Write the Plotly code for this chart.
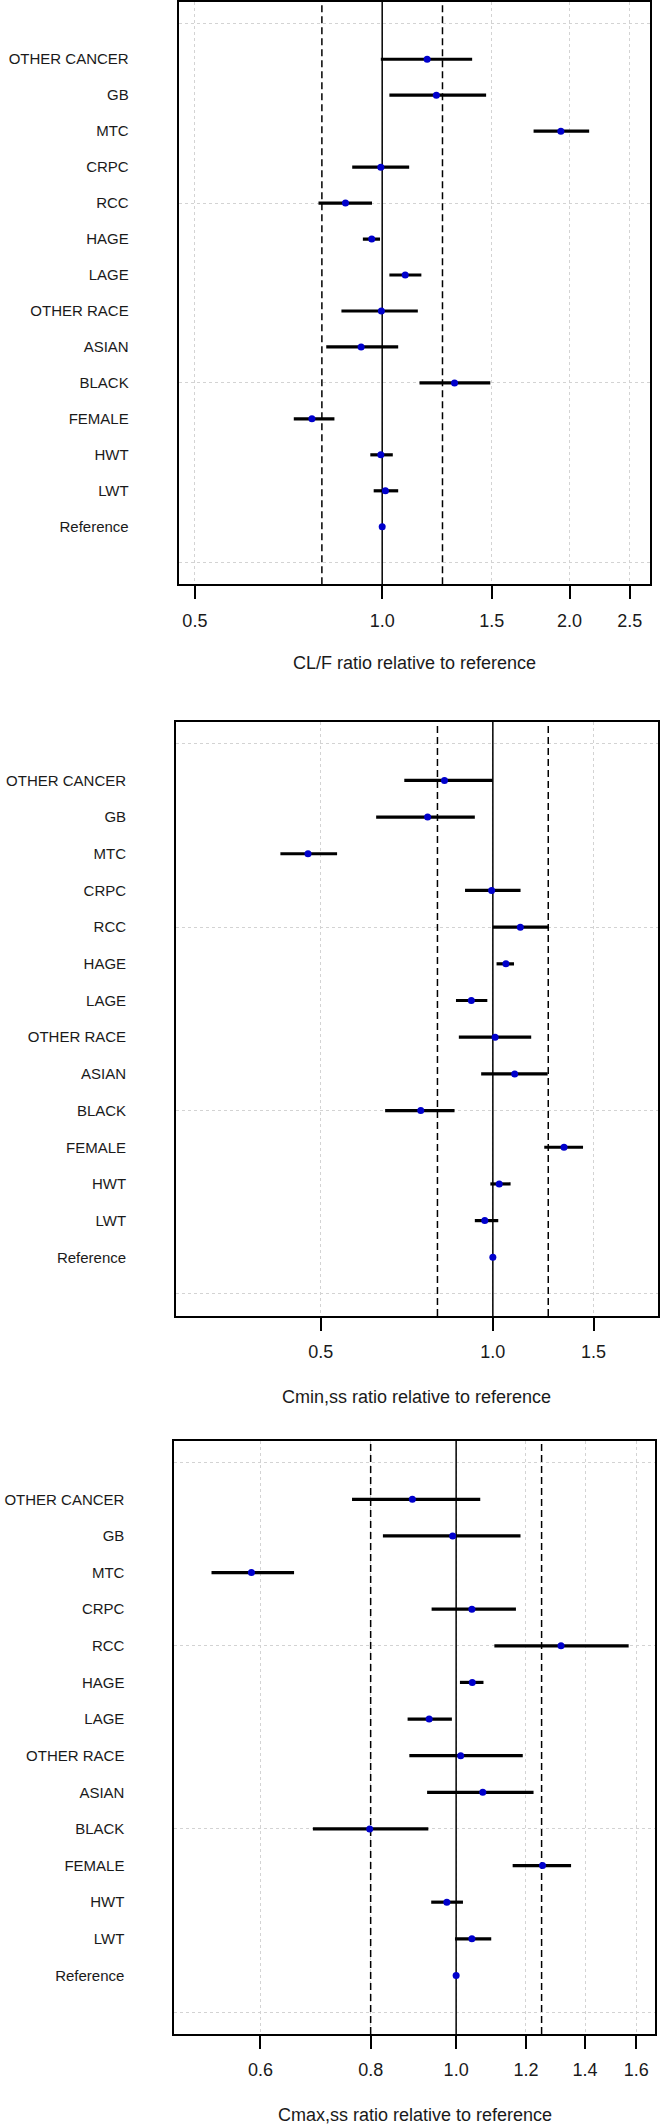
import math
import plotly.graph_objects as go

# ---------------- data ----------------
categories = ["OTHER CANCER", "GB", "MTC", "CRPC", "RCC", "HAGE", "LAGE",
              "OTHER RACE", "ASIAN", "BLACK", "FEMALE", "HWT", "LWT", "Reference"]

clf_est = [1.181, 1.222, 1.937, 0.995, 0.873, 0.962, 1.089, 0.997, 0.925, 1.307, 0.771, 0.995, 1.012, 1.0]
clf_lo  = [0.995, 1.027, 1.751, 0.895, 0.790, 0.931, 1.027, 0.860, 0.813, 1.148, 0.721, 0.957, 0.969, 1.0]
clf_hi  = [1.395, 1.469, 2.151, 1.105, 0.963, 0.992, 1.156, 1.141, 1.061, 1.492, 0.838, 1.040, 1.061, 1.0]

cmin_est = [0.823, 0.769, 0.475, 0.995, 1.117, 1.054, 0.917, 1.009, 1.092, 0.748, 1.332, 1.026, 0.968, 1.0]
cmin_lo  = [0.700, 0.625, 0.425, 0.894, 1.000, 1.015, 0.862, 0.872, 0.954, 0.648, 1.230, 0.990, 0.930, 1.0]
cmin_hi  = [1.000, 0.930, 0.534, 1.118, 1.249, 1.089, 0.978, 1.167, 1.247, 0.857, 1.438, 1.074, 1.022, 1.0]

cmax_est = [0.892, 0.991, 0.586, 1.042, 1.315, 1.043, 0.932, 1.012, 1.072, 0.798, 1.253, 0.976, 1.042, 1.0]
cmax_lo  = [0.762, 0.826, 0.528, 0.938, 1.105, 1.010, 0.881, 0.885, 0.927, 0.688, 1.159, 0.937, 0.997, 1.0]
cmax_hi  = [1.065, 1.183, 0.655, 1.169, 1.569, 1.074, 0.989, 1.190, 1.224, 0.930, 1.350, 1.018, 1.096, 1.0]

ref_lines = [0.8, 1.0, 1.25]

titles = ["CL/F ratio relative to reference",
          "Cmin,ss ratio relative to reference",
          "Cmax,ss ratio relative to reference"]

xticks_1 = [0.5, 1.0, 1.5, 2.0, 2.5]
xticks_2 = [0.5, 1.0, 1.5]
xticks_3 = [0.6, 0.8, 1.0, 1.2, 1.4, 1.6]

xranges = [(0.4706, 2.697), (0.279, 1.944), (0.479, 1.682)]
YRANGE = [-0.6, 15.6]

# ---------------- layout geometry (pixels) ----------------
W, H = 660, 2126
panels_px = [  # x0, x1, ytop, ybot, title_y
    (178.5, 650.3, 1.7, 584.3, 663.3),
    (175.9, 657.9, 721.7, 1316.0, 1396.7),
    (174.2, 655.3, 1440.7, 2034.0, 2115.0),
]

FONT = "Liberation Sans, Arial, sans-serif"

fig = go.Figure()
rows = list(range(len(categories), 0, -1))

series = [(clf_est, clf_lo, clf_hi, xticks_1),
          (cmin_est, cmin_lo, cmin_hi, xticks_2),
          (cmax_est, cmax_lo, cmax_hi, xticks_3)]

layout = dict(width=W, height=H, margin=dict(l=0, r=0, t=0, b=0, pad=0),
              paper_bgcolor="white", plot_bgcolor="white", showlegend=False,
              font=dict(family=FONT, color="#1a1a1a"))
annotations = []

for i, ((est, lo, hi, ticks), (x0, x1, yt, yb, ty)) in enumerate(zip(series, panels_px)):
    n = "" if i == 0 else str(i + 1)
    xa, ya = "x" + n, "y" + n
    # reference lines (drawn as traces so they sit above the grid)
    for v in ref_lines:
        fig.add_trace(go.Scatter(
            x=[v, v], y=YRANGE, mode="lines", xaxis=xa, yaxis=ya,
            line=dict(color="black", width=1.5,
                      dash="solid" if v == 1.0 else "7px,4px"),
            hoverinfo="skip", cliponaxis=True))
    fig.add_trace(go.Scatter(
        x=est, y=rows, mode="markers", xaxis=xa, yaxis=ya,
        marker=dict(color="#0000CC", size=7, line=dict(width=0)),
        error_x=dict(type="data", symmetric=False,
                     array=[h - e for h, e in zip(hi, est)],
                     arrayminus=[e - l for e, l in zip(est, lo)],
                     color="black", thickness=3.2, width=0),
        hoverinfo="skip"))
    layout["xaxis" + n] = dict(
        type="log", range=[math.log10(xranges[i][0]), math.log10(xranges[i][1])],
        domain=[x0 / W, x1 / W], anchor=ya, automargin=False,
        tickmode="array", tickvals=ticks, ticktext=["%.1f" % t for t in ticks],
        ticks="outside", ticklen=13, tickwidth=1.6, tickcolor="black",
        ticklabelstandoff=6,
        showline=True, linecolor="black", linewidth=1.6, mirror=True,
        showgrid=True, gridcolor="#d3d3d3", griddash="dot", gridwidth=1,
        zeroline=False, tickfont=dict(size=18, color="#1a1a1a", family=FONT))
    layout["yaxis" + n] = dict(
        range=YRANGE, domain=[1 - yb / H, 1 - yt / H], anchor=xa,
        automargin=False,
        tickmode="array", tickvals=rows, ticktext=categories,
        ticks="", ticklabelstandoff=45,
        showline=True, linecolor="black", linewidth=1.6, mirror=True,
        showgrid=False, zeroline=False,
        minor=dict(tickmode="linear", tick0=0, dtick=5, showgrid=True,
                   gridcolor="#d3d3d3", griddash="dot", gridwidth=1, ticks=""),
        tickfont=dict(size=15, color="#1a1a1a", family=FONT))
    annotations.append(dict(text=titles[i], xref="paper", yref="paper",
                            x=(x0 + x1) / 2 / W, y=1 - ty / H, showarrow=False,
                            xanchor="center", yanchor="middle",
                            font=dict(size=18, color="#1a1a1a", family=FONT)))

layout["annotations"] = annotations
fig.update_layout(**layout)
fig.write_html("out.html", config={"displayModeBar": False},
               post_script="document.body.style.margin='0';document.body.style.overflow='hidden';")
